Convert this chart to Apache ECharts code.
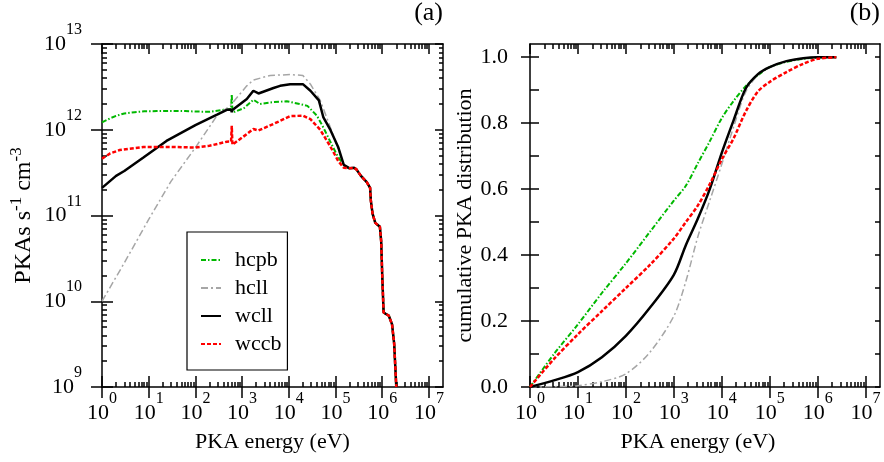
<!DOCTYPE html>
<html>
<head>
<meta charset="utf-8">
<script src="https://cdn.jsdelivr.net/npm/echarts@6/dist/echarts.min.js"></script>
<style>
  html, body { margin: 0; background: #fff; }
  #chart { width: 884px; height: 462px; }
</style>
</head>
<body>
<div id="chart"></div>
<script>
// ---- data ----
const seriesNames = ['hcpb', 'hcll', 'wcll', 'wccb']

// (a) PKA rate, low-energy part of each curve (eV, PKAs s^-1 cm^-3)
const hcpbE = [1, 1.5, 2, 3, 5, 8, 15, 30, 60, 100, 200, 400, 580, 600, 620, 700, 1100, 1750, 2400, 4700, 9000, 17000, 25000, 40000, 55000, 76000, 105000, 150000]
const hcpbA = [1.22e12, 1.36e12, 1.45e12, 1.55e12, 1.6e12, 1.64e12, 1.65e12, 1.66e12, 1.65e12, 1.63e12, 1.62e12, 1.71e12, 1.74e12, 2.6e12, 1.65e12, 1.62e12, 1.79e12, 2.24e12, 2.0e12, 2.1e12, 2.15e12, 2.0e12, 1.9e12, 1.46e12, 1.06e12, 7.4e11, 5.2e11, 3.8e11]

const hcllE = [1, 3, 10, 30, 100, 300, 550, 1260, 1740, 4000, 10700, 20000, 29000, 47000, 65000, 90000, 120000, 150000]
const hcllA = [1e10, 2.8e10, 9e10, 2.5e11, 6.2e11, 1.5e12, 1.9e12, 3.25e12, 3.8e12, 4.3e12, 4.4e12, 4.3e12, 3.4e12, 2.2e12, 1.38e12, 8.5e11, 5.5e11, 3.8e11]

const wcllE = [1, 2, 3, 7.7, 24, 100, 290, 470, 580, 600, 620, 680, 1260, 1740, 2240, 4700, 6500, 10700, 20000, 29000, 44000, 55000, 76000, 115000, 150000]
const wcllA = [2.1e11, 2.9e11, 3.3e11, 4.75e11, 7.4e11, 1.13e12, 1.5e12, 1.71e12, 1.72e12, 1.6e12, 1.7e12, 1.73e12, 2.28e12, 2.85e12, 2.65e12, 3.07e12, 3.25e12, 3.4e12, 3.4e12, 2.85e12, 2.2e12, 1.39e12, 1.02e12, 6.2e11, 3.9e11]

const wccbE = [1, 1.5, 2.4, 7.7, 30, 100, 200, 470, 580, 600, 620, 680, 1260, 1740, 2240, 4700, 10700, 20000, 29000, 47000, 76000, 115000, 150000]
const wccbA = [4.6e11, 5.3e11, 5.8e11, 6.3e11, 6.3e11, 6.2e11, 6.5e11, 7.25e11, 7.3e11, 1.11e12, 6.7e11, 6.8e11, 8.9e11, 1.02e12, 9.8e11, 1.17e12, 1.44e12, 1.46e12, 1.33e12, 1.0e12, 6.5e11, 4.3e11, 3.6e11]

// (a) common high-energy tail shared by all four spectra
const tailE = [1.6e5, 2.0e5, 2.5e5, 2.8e5, 3.5e5, 4.2e5, 4.7e5, 5.5e5, 5.7e5, 6.2e5, 7.1e5, 8.9e5, 9.5e5, 1.0e6, 1.07e6, 1.2e6, 1.38e6, 1.62e6, 1.8e6, 2.0e6]
const tailA = [3.7e11, 3.55e11, 3.6e11, 3.45e11, 2.9e11, 2.6e11, 2.43e11, 2.1e11, 1.5e11, 1.05e11, 8.2e10, 7.4e10, 5e10, 2e10, 7.4e9, 7.1e9, 6.8e9, 5.4e9, 3.2e9, 1e9]

// (b) cumulative distribution
const cumE = [1, 3.16, 10, 31.6, 100, 316, 1000, 1780, 3160, 5620, 10000, 17800, 31600, 56200, 100000, 224000, 500000, 1000000, 2450000]
const hcpbC = [0, 0.10, 0.19, 0.285, 0.375, 0.47, 0.565, 0.61, 0.678, 0.745, 0.815, 0.868, 0.912, 0.945, 0.97, 0.986, 0.995, 0.999, 1.0]
const hcllC = [0, 0.001, 0.004, 0.016, 0.04, 0.105, 0.215, 0.32, 0.455, 0.565, 0.675, 0.79, 0.895, 0.945, 0.97, 0.988, 0.997, 1.0, 1.0]
const wcllC = [0, 0.02, 0.045, 0.09, 0.155, 0.24, 0.34, 0.43, 0.51, 0.6, 0.71, 0.81, 0.905, 0.948, 0.97, 0.988, 0.997, 1.0, 1.0]
const wccbC = [0, 0.085, 0.16, 0.23, 0.30, 0.37, 0.45, 0.50, 0.55, 0.615, 0.69, 0.755, 0.835, 0.895, 0.925, 0.955, 0.98, 0.995, 1.0]

// axis ticks
const xDecades = [0, 1, 2, 3, 4, 5, 6, 7]          // label exponents
const yDecades = [9, 10, 11, 12, 13]
const cumLabels = [0, 0.2, 0.4, 0.6, 0.8, 1.0]
const cumTicks = [0, 0.1, 0.2, 0.3, 0.4, 0.5, 0.6, 0.7, 0.8, 0.9, 1.0]

// ---- helpers ----
const FONT = 'Liberation Serif'
const X_MIN = 1, X_MAX = 2e7
const Y_MIN = 1e9, Y_MAX = 1e13
const C_MAX = 1.04
const xLogMax = Math.log10(X_MAX)

function pairs(E, V) {
  return E.map((e, i) => [e, V[i]])
}

const powRich = {
  b: { fontFamily: FONT, fontSize: 22, lineHeight: 44, color: '#000' },
  s: { fontFamily: FONT, fontSize: 16, lineHeight: 16, verticalAlign: 'top', color: '#000' }
}
const powLabel = v => '{b|10}{s|' + Math.round(v) + '}'
const lineBlack = { color: '#000', width: 1.5 }
const nameStyle = { fontFamily: FONT, fontSize: 22, color: '#000' }

// frame axes: lines and labels only
function frame(grid, pos, min, max, extra) {
  return Object.assign({
    type: 'value', gridIndex: grid, position: pos, min: min, max: max,
    splitLine: { show: false },
    axisTick: { show: false },
    axisLine: { show: true, onZero: false, lineStyle: lineBlack },
    axisLabel: { show: false }
  }, extra || {})
}

// tick axes: fine category scales spanning the same range as the grid,
// a tick is drawn only on the categories that sit on a tick position
const X_STEPS = 7301, YA_STEPS = 4000, YB_STEPS = 104
function cats(steps) {
  const out = []
  for (let i = 0; i <= steps; i++) out.push(String(i))
  return out
}
function indexSet(positions, span, steps) {
  const s = new Set()
  positions.forEach(p => s.add(Math.round(p / span * steps)))
  return s
}
function logMinors(first, last) {
  const out = []
  for (let d = first; d < last; d++) {
    for (let k = 2; k <= 9; k++) out.push(d + Math.log10(k))
  }
  return out
}
const xMajorIdx = indexSet(xDecades, xLogMax, X_STEPS)
const xMinorIdx = indexSet(logMinors(0, 7), xLogMax, X_STEPS)
const yMajorIdx = indexSet(yDecades.map(d => d - 9), 4, YA_STEPS)
const yMinorIdx = indexSet(logMinors(0, 4), 4, YA_STEPS)
const cMajorIdx = indexSet(cumLabels, C_MAX, YB_STEPS)
const cAllIdx = indexSet(cumTicks, C_MAX, YB_STEPS)

function tickAxis(grid, pos, steps, pick, len, inside) {
  return {
    type: 'category', gridIndex: grid, position: pos, data: cats(steps), boundaryGap: false,
    axisLine: { show: false, onZero: false },
    axisLabel: { show: false },
    splitLine: { show: false },
    axisTick: { show: true, inside: inside, length: len, interval: i => pick.has(i), lineStyle: lineBlack }
  }
}

function xFrame(grid, namePad) {
  return [
    frame(grid, 'bottom', 0, xLogMax, {
      axisLabel: { show: true, customValues: xDecades, margin: 4, formatter: powLabel, rich: powRich },
      name: 'PKA energy (eV)', nameLocation: 'middle', nameGap: 44,
      nameTextStyle: Object.assign({ padding: namePad }, nameStyle)
    }),
    frame(grid, 'top', 0, xLogMax),
    tickAxis(grid, 'bottom', X_STEPS, xMajorIdx, 11, false),
    tickAxis(grid, 'bottom', X_STEPS, xMajorIdx, 11, true),
    tickAxis(grid, 'bottom', X_STEPS, xMinorIdx, 5, true),
    tickAxis(grid, 'top', X_STEPS, xMajorIdx, 10, true),
    tickAxis(grid, 'top', X_STEPS, xMinorIdx, 5, true)
  ]
}

const xAxes = [
  { type: 'log', logBase: 10, gridIndex: 0, min: X_MIN, max: X_MAX, show: false },
  { type: 'log', logBase: 10, gridIndex: 1, min: X_MIN, max: X_MAX, show: false }
].concat(xFrame(0, [0, 0, 0, 0]), xFrame(1, [0, 14, 0, 0]))

const yAxes = [
  { type: 'log', logBase: 10, gridIndex: 0, min: Y_MIN, max: Y_MAX, show: false },
  { type: 'value', gridIndex: 1, min: 0, max: C_MAX, show: false },
  frame(0, 'left', 9, 13, {
    axisLabel: { show: true, customValues: yDecades, margin: 20, formatter: powLabel, rich: powRich },
    name: 'PKAs s{s|-1} cm{s|-3}', nameLocation: 'middle', nameGap: 62,
    nameTextStyle: {
      fontFamily: FONT, fontSize: 24, color: '#000', lineHeight: 32,
      rich: { s: { fontFamily: FONT, fontSize: 17, lineHeight: 17, verticalAlign: 'top', color: '#000' } }
    }
  }),
  frame(0, 'right', 9, 13),
  tickAxis(0, 'left', YA_STEPS, yMajorIdx, 11, false),
  tickAxis(0, 'left', YA_STEPS, yMajorIdx, 11, true),
  tickAxis(0, 'left', YA_STEPS, yMinorIdx, 5, true),
  tickAxis(0, 'right', YA_STEPS, yMajorIdx, 8, true),
  tickAxis(0, 'right', YA_STEPS, yMinorIdx, 4, true),
  frame(1, 'left', 0, C_MAX, {
    axisLabel: {
      show: true, customValues: cumLabels, margin: 22, formatter: v => v.toFixed(1),
      fontFamily: FONT, fontSize: 22, color: '#000'
    },
    name: 'cumulative PKA distribution', nameLocation: 'middle', nameGap: 52,
    nameTextStyle: nameStyle
  }),
  frame(1, 'right', 0, C_MAX),
  tickAxis(1, 'left', YB_STEPS, cMajorIdx, 9, false),
  tickAxis(1, 'left', YB_STEPS, cAllIdx, 9, true),
  tickAxis(1, 'right', YB_STEPS, cAllIdx, 5, true)
]

const styles = {
  hcpb: { color: '#00b800', width: 2, type: [5, 2, 1.5, 2] },
  hcll: { color: '#a6a6a6', width: 1.5, type: [7, 3, 2, 3] },
  wcll: { color: '#000000', width: 2.5, type: 'solid' },
  wccb: { color: '#ff0000', width: 2.5, type: [4, 2] }
}

const rateData = {
  hcpb: pairs(hcpbE.concat(tailE), hcpbA.concat(tailA)),
  hcll: pairs(hcllE.concat(tailE), hcllA.concat(tailA)),
  wcll: pairs(wcllE.concat(tailE), wcllA.concat(tailA)),
  wccb: pairs(wccbE.concat(tailE), wccbA.concat(tailA))
}
const cumData = {
  hcpb: pairs(cumE, hcpbC),
  hcll: pairs(cumE, hcllC),
  wcll: pairs(cumE, wcllC),
  wccb: pairs(cumE, wccbC)
}

const series = []
seriesNames.forEach(name => {
  series.push({
    name: name, type: 'line', xAxisIndex: 0, yAxisIndex: 0,
    data: rateData[name], symbol: 'none',
    color: styles[name].color, lineStyle: styles[name]
  })
})
seriesNames.forEach(name => {
  series.push({
    name: name, type: 'line', xAxisIndex: 1, yAxisIndex: 1,
    data: cumData[name], symbol: 'none', smooth: 0.3,
    color: styles[name].color, lineStyle: styles[name]
  })
})

const chart = echarts.init(document.getElementById('chart'))
chart.setOption({
  animation: false,
  title: [
    { text: '(a)', right: 441, top: 0, padding: 0, textStyle: { fontFamily: FONT, fontSize: 26, fontWeight: 'normal', color: '#000' } },
    { text: '(b)', right: 4, top: 0, padding: 0, textStyle: { fontFamily: FONT, fontSize: 26, fontWeight: 'normal', color: '#000' } }
  ],
  grid: [
    { left: 102, top: 44, width: 341, height: 343 },
    { left: 530, top: 44, width: 350, height: 343 }
  ],
  legend: {
    data: seriesNames,
    orient: 'vertical',
    left: 187,
    top: 232,
    padding: [17, 6, 15, 13],
    itemWidth: 20,
    itemHeight: 14,
    itemGap: 6,
    borderColor: '#000',
    borderWidth: 1.2,
    backgroundColor: '#fff',
    itemStyle: { opacity: 0 },
    textStyle: { fontFamily: FONT, fontSize: 22, color: '#000', padding: [0, 0, 0, 9] }
  },
  xAxis: xAxes,
  yAxis: yAxes,
  series: series
})
</script>
</body>
</html>
